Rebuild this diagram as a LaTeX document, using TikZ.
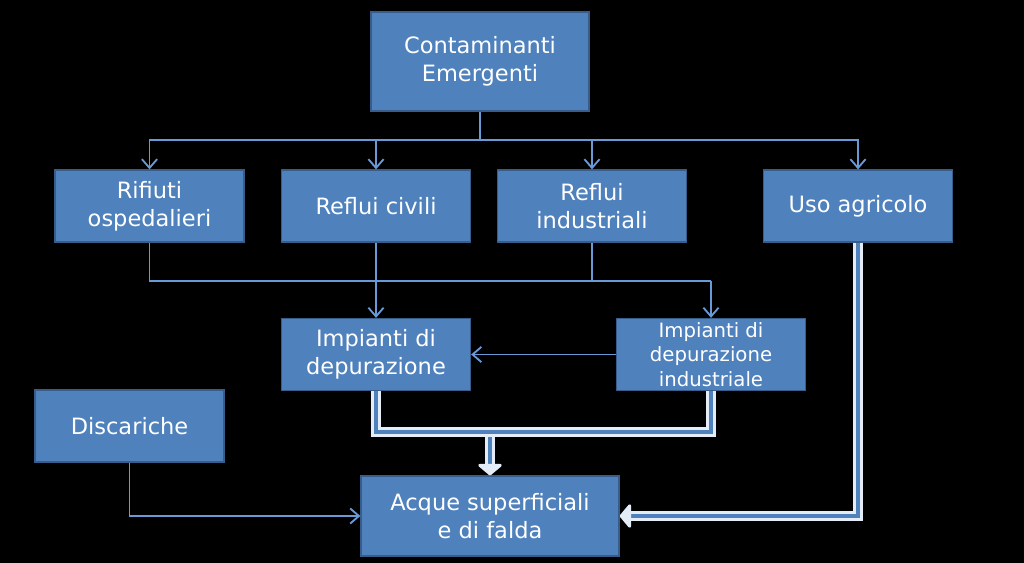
\documentclass[tikz,border=0pt]{standalone}
\usepackage{fontspec}
\setmainfont{DejaVu Sans}
\usepackage{tikz}
\usepackage{xcolor}
\usetikzlibrary{arrows.meta,positioning,calc}
\definecolor{BoxFill}{HTML}{4F81BD}
\definecolor{BoxEdge}{HTML}{385D8A}
\definecolor{Wire}{HTML}{6A9AD6}
\definecolor{PipeRim}{HTML}{E4ECF7}

\begin{document}
\begin{tikzpicture}[x=0.025cm,y=-0.025cm,
  box/.style={draw=BoxEdge,line width=0.9pt,fill=BoxFill,text=white,minimum width=4.725cm,minimum height=1.8cm,align=center,font=\fontsize{16}{20}\selectfont,inner sep=2pt},
  link/.style={draw=Wire,line width=1.3pt},
  linkarrow/.style={link,-{Straight Barb[length=2.2mm,width=3.8mm,line width=1.3pt]}},
  pipe/.style={draw=PipeRim,double=BoxFill,double distance=2.8pt,line width=2.2pt},
  pipearrow/.style={pipe,-{Triangle[length=3mm,width=7mm,round]}}
]
\fill[black] (0,0) rectangle (1024,563);
\useasboundingbox (0,0) rectangle (1024,563);

\node[box,minimum width=5.45cm,minimum height=2.475cm,font=\fontsize{16}{20}\selectfont] (ce) at (480,61.5) {Contaminanti\\Emergenti};
\node[box] (rif) at (149.5,206) {Rifiuti\\ospedalieri};
\node[box] (civ) at (376,206) {Reflui civili};
\node[box] (rin) at (592,206) {Reflui\\industriali};
\node[box] (uso) at (858,206) {Uso agricolo};
\node[box] (dep) at (376,354.5) {Impianti di\\depurazione};
\node[box,font=\fontsize{14}{17.5}\selectfont] (iind) at (711,354.5) {Impianti di\\depurazione\\industriale};
\node[box] (dis) at (129.5,426) {Discariche};
\node[box,minimum width=6.45cm,minimum height=2cm] (acq) at (490,516) {Acque superficiali\\e di falda};

% first level
\coordinate (split) at (480,140);
\draw[link] (ce) -- (split);
\draw[linkarrow] (split) -| (rif);
\draw[linkarrow] (split) -| (civ);
\draw[linkarrow] (split) -| (rin);
\draw[linkarrow] (split) -| (uso);

% to the plants
\coordinate (mid) at (376,281);
\coordinate (turn) at (711,281);
\draw[link] (rif) |- (mid);
\draw[linkarrow] (civ) -- (dep);
\draw[link] (mid) -- (rin |- mid);
\draw[link] (rin) |- (turn);
\draw[linkarrow] (turn) -- (iind);
\draw[linkarrow] (iind) -- (dep);

% to the waters
\coordinate (merge) at (490,432);
\draw[pipearrow] (merge) -- (acq);
\draw[pipe] (dep) |- (merge) -| (iind);
\draw[pipearrow] (uso) |- (acq);
\draw[linkarrow] (dis) |- (acq);
\end{tikzpicture}
\end{document}
